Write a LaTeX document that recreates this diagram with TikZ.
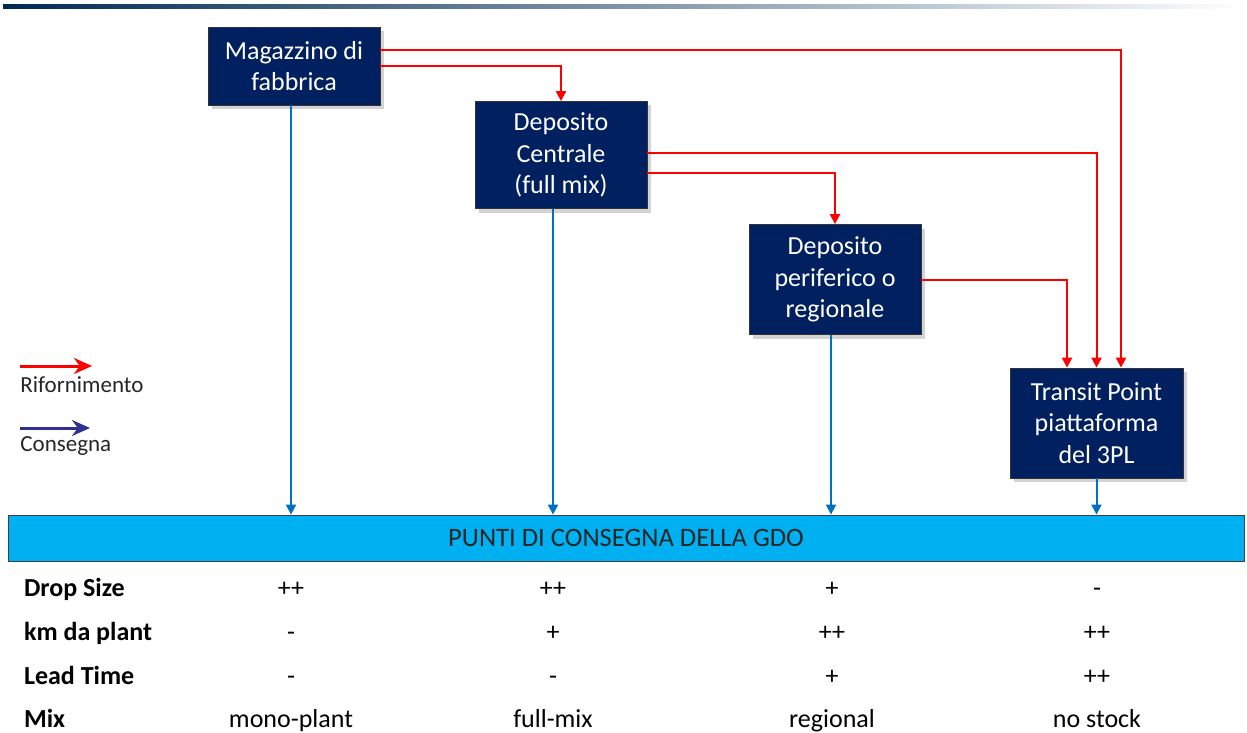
\documentclass[tikz,border=0pt]{standalone}
\usepackage{fontspec}
\setmainfont{Carlito}
\usepackage{tikz}
\usetikzlibrary{arrows.meta,positioning,calc,shadows}
\definecolor{BoxNavy}{HTML}{002060}
\definecolor{GdoBlue}{HTML}{00B0F0}
\definecolor{ConsBlue}{HTML}{0070C0}
\definecolor{LegBlue}{HTML}{2E3192}
\definecolor{BarNavy}{HTML}{002A54}

\begin{document}
\begin{tikzpicture}[x=0.5pt, y=-0.5pt,
  box/.style={draw=black!80, fill=BoxNavy, text=white, align=center,
    inner sep=2pt, font=\fontsize{13}{15.8}\selectfont,
    drop shadow={shadow xshift=2pt, shadow yshift=-2pt, opacity=0.35}},
  rif/.style={red, line width=1pt, -{Triangle[length=5pt,width=5pt]}},
  cons/.style={ConsBlue, line width=1pt, -{Triangle[length=5pt,width=5pt]}},
  row/.style={font=\fontsize{13}{15}\selectfont\bfseries, anchor=base west},
  val/.style={font=\fontsize{13}{15}\selectfont, anchor=base},
  leg/.style={anchor=north west, inner sep=0pt, font=\fontsize{11.5}{13}\selectfont, text=black!85}]
  \useasboundingbox (0,0) rectangle (1247,733);
  \shade[left color=BarNavy, right color=white] (3,5) rectangle (1247,9);

  % magazzini
  \node[box, minimum width=86pt, minimum height=39pt] (mag) at (294,66) {Magazzino di\\fabbrica};
  \node[box, minimum width=86pt, minimum height=53.5pt] (dc) at (561,155) {Deposito\\Centrale\\(full mix)};
  \node[box, minimum width=86pt, minimum height=55pt] (dp) at (835,279.5) {Deposito\\periferico o\\regionale};
  \node[box, minimum width=86.5pt, minimum height=55pt] (tp) at (1096.5,423) {Transit Point\\piattaforma\\del 3PL};
  \node[draw=black!75, fill=GdoBlue, minimum width=618pt, minimum height=23pt,
    font=\fontsize{13.3}{15}\selectfont, text=black!85] (gdo) at (626,538) {PUNTI DI CONSEGNA DELLA GDO};

  % rifornimento
  \draw[rif] ([yshift=8pt]mag.east) -| ([xshift=12.25pt]tp.north);
  \draw[rif] (mag.east) -| (dc.north);
  \draw[rif] ([yshift=1pt]dc.east) -| (tp.north);
  \draw[rif] ([yshift=-9pt]dc.east) -| (dp.north);
  \draw[rif] (dp.east) -| ([xshift=-14.75pt]tp.north);

  % consegna
  \draw[cons] ([xshift=-1.5pt]mag.south) -- ([xshift=-1.5pt]mag.south |- gdo.north);
  \draw[cons] ([xshift=-4pt]dc.south) -- ([xshift=-4pt]dc.south |- gdo.north);
  \draw[cons] ([xshift=-2pt]dp.south) -- ([xshift=-2pt]dp.south |- gdo.north);
  \draw[cons] (tp.south) -- (tp.south |- gdo.north);

  % legenda
  \coordinate (lr) at (20,366);
  \coordinate (lc) at (20,428);
  \draw[red, line width=1.5pt, -{Stealth[length=9pt,width=8pt]}] (lr) -- ++(72,0);
  \draw[LegBlue, line width=1.5pt, -{Stealth[length=9pt,width=8pt]}] (lc) -- ++(70,0);
  \node[leg] (lrt) at (20,376) {Rifornimento};
  \node[leg] (lct) at (20,436) {Consegna};

  % tabella
  \node[row] (r1) at (17,596) {Drop Size};
  \node[row] (r2) at (17,640) {km da plant};
  \node[row] (r3) at (17,684) {Lead Time};
  \node[row] (r4) at (17,727) {Mix};
  \foreach \x/\a/\b/\c/\d [count=\i] in {291/++/-/-/mono-plant, 553/++/+/-/full-mix,
      832/+/++/+/regional, 1097/-/++/++/no stock} {
    \node[val] (v1\i) at (\x,596) {\a};
    \node[val] (v2\i) at (\x,640) {\b};
    \node[val] (v3\i) at (\x,684) {\c};
    \node[val] (v4\i) at (\x,727) {\d};
  }
\end{tikzpicture}
\end{document}
